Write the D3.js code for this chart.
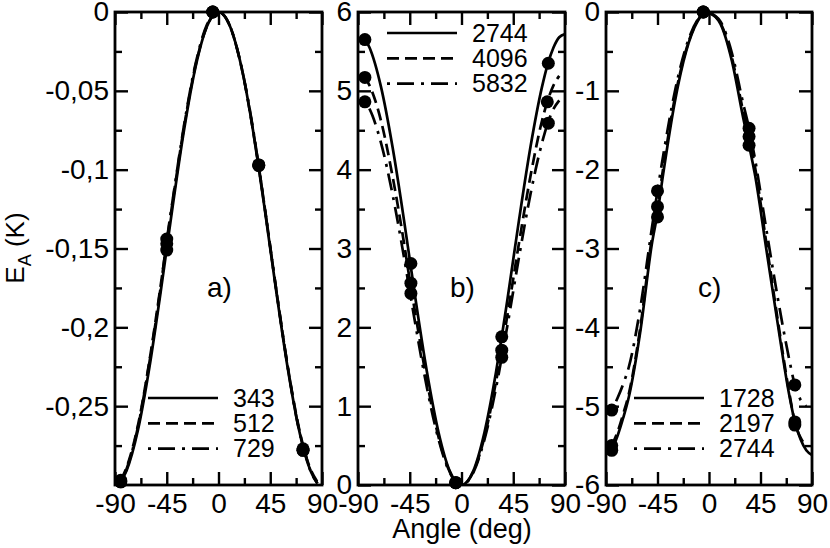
<!DOCTYPE html>
<html lang="en">
<head>
  <meta charset="UTF-8">
  <script src="https://d3js.org/d3.v7.min.js"></script>
  <style>
    body { margin: 0; background: #fff; }
    svg { font-family: "Liberation Sans", Arial, Helvetica, sans-serif; }
  </style>
</head>
<body>
<div id="chart"></div>
<script>
  // ---- data ----
  // panel a) : sizes 343 / 512 / 729
  const anglesA = [-85, -80, -70, -60, -50, -45, -40, -30, -20, -10, 0, 10, 20, 30, 35, 40, 50, 60, 70, 75, 80, 86];
  const a343 = [-0.298, -0.291, -0.265, -0.225, -0.176, -0.150, -0.124, -0.075, -0.035, -0.009, 0, -0.009, -0.035, -0.075, -0.099, -0.124, -0.176, -0.225, -0.265, -0.280, -0.291, -0.299];
  const a512 = [-0.297, -0.289, -0.262, -0.221, -0.172, -0.146, -0.121, -0.073, -0.034, -0.009, 0, -0.009, -0.035, -0.075, -0.098, -0.123, -0.175, -0.224, -0.264, -0.279, -0.290, -0.298];
  const a729 = [-0.298, -0.290, -0.263, -0.222, -0.173, -0.145, -0.120, -0.072, -0.033, -0.008, 0, -0.009, -0.035, -0.074, -0.098, -0.123, -0.175, -0.224, -0.265, -0.279, -0.291, -0.299];
  const dotsA343 = [[-85, -0.298], [-45, -0.151], [-5, 0], [35, -0.0975], [73.5, -0.278]];
  const dotsA512 = [[-85, -0.297], [-45, -0.147], [-5, 0], [35, -0.097], [73.5, -0.277]];
  const dotsA729 = [[-85, -0.298], [-45, -0.144], [-5, 0], [35, -0.097], [73.5, -0.278]];

  // panel b) : sizes 2744 / 4096 / 5832
  const anglesB = [-85, -80, -70, -60, -50, -45, -40, -30, -20, -10, 0, 10, 20, 30, 35, 40, 50, 60, 70, 75, 80, 85, 90];
  const b2744 = [5.68, 5.55, 5.05, 4.29, 3.36, 2.86, 2.36, 1.43, 0.67, 0.17, 0, 0.17, 0.67, 1.43, 1.88, 2.36, 3.36, 4.29, 5.05, 5.34, 5.55, 5.68, 5.72];
  const b4096 = [5.19, 5.07, 4.62, 3.92, 3.07, 2.60, 2.16, 1.31, 0.61, 0.16, 0, 0.16, 0.61, 1.31, 1.72, 2.16, 3.07, 3.92, 4.62, 4.88, 5.07, 5.19, null];
  const b5832 = [4.88, 4.77, 4.34, 3.69, 2.89, 2.46, 2.03, 1.23, 0.58, 0.15, 0, 0.15, 0.58, 1.23, 1.62, 2.03, 2.89, 3.69, 4.34, 4.59, 4.77, 4.88, null];
  const dotsB2744 = [[-84, 5.65], [-44, 2.81], [-5, 0.03], [35, 1.88], [75.5, 5.35]];
  const dotsB4096 = [[-84, 5.17], [-44, 2.56], [-5, 0.03], [35, 1.71], [74.6, 4.86]];
  const dotsB5832 = [[-84, 4.86], [-44, 2.43], [-5, 0.03], [35, 1.62], [75.5, 4.59]];

  // panel c) : sizes 1728 / 2197 / 2744
  const anglesC = [-85, -80, -75, -70, -60, -50, -45, -40, -30, -20, -10, -3, 0, 10, 20, 30, 35, 40, 50, 60, 70, 75, 80, 85, 90];
  const c1728 = [-5.56, -5.38, -5.15, -4.88, -4.05, -2.95, -2.55, -2.05, -1.15, -0.50, -0.12, 0, -0.01, -0.15, -0.62, -1.35, -1.69, -2.05, -3.00, -3.95, -4.85, -5.20, -5.42, -5.56, -5.62];
  const c2197 = [-5.50, -5.33, -5.10, -4.84, -4.00, -2.88, -2.47, -1.98, -1.10, -0.48, -0.11, 0, -0.01, -0.14, -0.58, -1.27, -1.58, -1.95, -2.92, -3.90, -4.82, -5.20, -5.40, -5.50, null];
  const c2744 = [-5.05, -4.90, -4.72, -4.50, -3.75, -2.75, -2.27, -1.82, -1.02, -0.44, -0.10, 0, -0.01, -0.12, -0.52, -1.17, -1.475, -1.85, -2.75, -3.62, -4.40, -4.73, -4.92, -5.00, null];
  const dotsC1728 = [[-85, -5.56], [-45, -2.60], [-5, 0], [35, -1.69], [75, -5.24]];
  const dotsC2197 = [[-85, -5.50], [-45, -2.47], [-5, 0], [35, -1.58], [75, -5.20]];
  const dotsC2744 = [[-85, -5.05], [-45, -2.27], [-5, 0], [35, -1.475], [75, -4.73]];

  // tick values
  const xTicks = [-90, -45, 0, 45, 90];
  const xMinor = [-67.5, -22.5, 22.5, 67.5];
  const yTicksA = [0, -0.05, -0.1, -0.15, -0.2, -0.25];
  const yMinorA = [-0.025, -0.075, -0.125, -0.175, -0.225, -0.275];
  const yTicksB = [0, 1, 2, 3, 4, 5, 6];
  const yMinorB = [0.5, 1.5, 2.5, 3.5, 4.5, 5.5];
  const yTicksC = [0, -1, -2, -3, -4, -5, -6];
  const yMinorC = [-0.5, -1.5, -2.5, -3.5, -4.5, -5.5];

  // ---- layout ----
  const W = 830, H = 548;
  const plotTop = 12, plotBottom = 485;
  const majorLen = 13, minorLen = 7;
  const dashes = ["none", "12,6", "3,7,17,7"];

  const panels = [
    { name: "a)", x0: 115, x1: 322, yDomain: [-0.3, 0], yTicks: yTicksA, yMinor: yMinorA,
      angles: anglesA, series: [a343, a512, a729], dots: [dotsA343, dotsA512, dotsA729],
      legend: ["343", "512", "729"], legendX: 148, legendY: 398 },
    { name: "b)", x0: 358, x1: 565, yDomain: [0, 6], yTicks: yTicksB, yMinor: yMinorB,
      angles: anglesB, series: [b2744, b4096, b5832], dots: [dotsB2744, dotsB4096, dotsB5832],
      legend: ["2744", "4096", "5832"], legendX: 387, legendY: 33 },
    { name: "c)", x0: 606, x1: 812, yDomain: [-6, 0], yTicks: yTicksC, yMinor: yMinorC,
      angles: anglesC, series: [c1728, c2197, c2744], dots: [dotsC1728, dotsC2197, dotsC2744],
      legend: ["1728", "2197", "2744"], legendX: 634, legendY: 398 }
  ];

  const fmt = d => d === 0 ? "0" : String(d).replace(".", ",");

  const svg = d3.select("#chart")
    .append("svg")
    .attr("width", W)
    .attr("height", H);

  panels.forEach(function (p, i) {
    const x = d3.scaleLinear().domain([-90, 90]).range([p.x0, p.x1]);
    const y = d3.scaleLinear().domain(p.yDomain).range([plotBottom, plotTop]);

    const g = svg.append("g");

    // clip for curves
    g.append("clipPath")
      .attr("id", "clip" + i)
      .append("rect")
      .attr("x", p.x0).attr("y", plotTop)
      .attr("width", p.x1 - p.x0).attr("height", plotBottom - plotTop);

    // axes, ticks pointing inwards on all four sides
    const axes = [
      { ax: d3.axisBottom(x), t: `translate(0,${plotBottom})`, labels: true },
      { ax: d3.axisTop(x), t: `translate(0,${plotTop})`, labels: false },
      { ax: d3.axisLeft(y), t: `translate(${p.x0},0)`, labels: true, isY: true },
      { ax: d3.axisRight(y), t: `translate(${p.x1},0)`, labels: false, isY: true }
    ];
    axes.forEach(function (a) {
      const major = a.ax.tickValues(a.isY ? p.yTicks : xTicks)
        .tickSizeInner(-majorLen).tickSizeOuter(0).tickPadding(a.isY ? 6 : 8)
        .tickFormat(a.labels ? fmt : () => "");
      const gm = g.append("g").attr("transform", a.t).call(major);
      gm.select(".domain").remove();
      gm.selectAll(".tick line").attr("stroke-width", 2.4);
      gm.selectAll(".tick text")
        .style("font-size", "28px")
        .attr("fill", "#000");

      const minor = a.ax.tickValues(a.isY ? p.yMinor : xMinor)
        .tickSizeInner(-minorLen).tickFormat(() => "");
      const gn = g.append("g").attr("transform", a.t).call(minor);
      gn.select(".domain").remove();
      gn.selectAll(".tick line").attr("stroke-width", 2.4);
    });

    // frame
    g.append("rect")
      .attr("x", p.x0).attr("y", plotTop)
      .attr("width", p.x1 - p.x0).attr("height", plotBottom - plotTop)
      .attr("fill", "none").attr("stroke", "#000").attr("stroke-width", 2.8);

    // curves
    const line = d3.line()
      .defined(d => d[1] !== null)
      .x(d => x(d[0]))
      .y(d => y(d[1]))
      .curve(d3.curveMonotoneX);

    p.series.forEach(function (vals, k) {
      const pts = p.angles.map((a, j) => [a, vals[j]]);
      g.append("path")
        .datum(pts)
        .attr("clip-path", `url(#clip${i})`)
        .attr("d", line)
        .attr("fill", "none")
        .attr("stroke", "#000")
        .attr("stroke-width", 2.7)
        .attr("stroke-dasharray", dashes[k]);
    });

    // simulation points
    p.dots.forEach(function (ds) {
      g.selectAll(null)
        .data(ds)
        .join("circle")
        .attr("cx", d => x(d[0]))
        .attr("cy", d => y(d[1]))
        .attr("r", 6.5)
        .attr("fill", "#000");
    });

    // legend
    p.legend.forEach(function (lab, k) {
      const ly = p.legendY + k * 25.3;
      g.append("line")
        .attr("x1", p.legendX).attr("x2", p.legendX + 70)
        .attr("y1", ly).attr("y2", ly)
        .attr("stroke", "#000")
        .attr("stroke-width", 2.7)
        .attr("stroke-dasharray", dashes[k]);
      g.append("text")
        .attr("x", p.legendX + 85)
        .attr("y", ly)
        .attr("dy", "0.35em")
        .style("font-size", "25px")
        .text(lab);
    });

    // panel label
    g.append("text")
      .attr("x", p.x0 + 92)
      .attr("y", 297)
      .style("font-size", "28px")
      .text(p.name);
  });

  // axis titles
  const yTitle = svg.append("text")
    .attr("transform", "translate(24,248) rotate(-90)")
    .attr("text-anchor", "middle")
    .style("font-size", "26px");
  yTitle.append("tspan").text("E");
  yTitle.append("tspan").attr("dy", 7).style("font-size", "18px").text("A");
  yTitle.append("tspan").attr("dy", -7).text(" (K)");

  svg.append("text")
    .attr("x", 462)
    .attr("y", 538)
    .attr("text-anchor", "middle")
    .style("font-size", "27px")
    .text("Angle (deg)");
</script>
</body>
</html>
